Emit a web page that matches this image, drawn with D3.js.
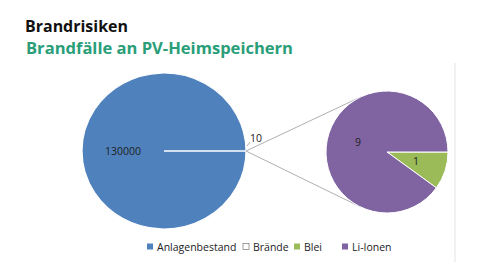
<!DOCTYPE html>
<html>
<head>
<meta charset="utf-8">
<script src="https://cdn.jsdelivr.net/npm/d3@7"></script>
<style>
  body { margin: 0; background: #fff; }
  svg { display: block; font-family: "Open Sans", "Noto Sans", sans-serif; }
</style>
</head>
<body>
<svg id="chart" width="480" height="276"></svg>
<script>
// data
const mainLabels = ["Anlagenbestand", "Brände"]
const mainValues = [130000, 10]
const subLabels = ["Blei", "Li-Ionen"]
const subValues = [1, 9]
const legendLabels = ["Anlagenbestand", "Brände", "Blei", "Li-Ionen"]
const colors = {"Anlagenbestand": "#4f81bd", "Brände": "#ffffff", "Blei": "#9bbb59", "Li-Ionen": "#8064a2"}

const svg = d3.select("#chart")

// titles
svg.append("text")
    .attr("x", 25).attr("y", 32)
    .attr("textLength", 103).attr("lengthAdjust", "spacingAndGlyphs")
    .style("font-size", "16px").style("font-weight", "bold").style("fill", "#111")
    .text("Brandrisiken")
svg.append("text")
    .attr("x", 26).attr("y", 54)
    .attr("textLength", 267).attr("lengthAdjust", "spacingAndGlyphs")
    .style("font-size", "16px").style("font-weight", "bold").style("fill", "#2a9e78")
    .text("Brandfälle an PV-Heimspeichern")

// faint frame line on the right
svg.append("line")
    .attr("x1", 455).attr("x2", 455).attr("y1", 63).attr("y2", 262)
    .style("stroke", "#ececec").style("stroke-width", 1.5)

const main = {cx: 164, cy: 151, r: 82, ry: 78}
const sub = {cx: 387, cy: 152, r: 61}

// main pie, the small "Brände" slice centred at 3 o'clock
const mainTotal = d3.sum(mainValues)
const halfOther = Math.PI * mainValues[1] / mainTotal
const mainPie = d3.pie().sort(null)
    .startAngle(Math.PI / 2 + halfOther)
    .endAngle(Math.PI / 2 + halfOther + 2 * Math.PI)
const mainArcs = mainPie(mainValues)
const mainArc = d3.arc().innerRadius(0).outerRadius(main.r)

const gMain = svg.append("g")
    .attr("transform", `translate(${main.cx},${main.cy}) scale(1,${main.ry / main.r})`)
gMain.selectAll("path")
    .data(mainArcs)
    .enter()
    .append("path")
    .attr("d", mainArc)
    .style("fill", (d, i) => colors[mainLabels[i]])
    .style("stroke", "#ffffff")
    .style("stroke-width", 1.2)

// label for the big slice
const bigC = mainArc.centroid(mainArcs[0])
svg.append("text")
    .attr("x", main.cx + bigC[0]).attr("y", main.cy + bigC[1] * main.ry / main.r)
    .attr("dy", "0.35em").attr("text-anchor", "middle")
    .style("font-size", "10.5px").style("fill", "#222")
    .text(d3.format("d")(mainValues[0]))

// outside label for the small slice
const outArc = d3.arc().innerRadius(main.r + 4).outerRadius(main.r + 4)
const oc = outArc.centroid(mainArcs[1])
const ox = main.cx + oc[0], oy = main.cy + oc[1]
svg.append("line")
    .attr("x1", ox - 3).attr("y1", oy - 5).attr("x2", ox).attr("y2", oy - 9)
    .style("stroke", "#999").style("stroke-width", 0.8)
svg.append("text")
    .attr("x", ox).attr("y", oy - 13)
    .attr("dy", "0.35em")
    .style("font-size", "10.5px").style("fill", "#222")
    .text(mainValues[1])

// connector lines, tangent to the second pie
const px = main.cx + main.r, py = main.cy
const dist = sub.cx - px
const th = Math.acos(sub.r / dist)
;[-1, 1].forEach(s => {
    svg.append("line")
        .attr("x1", px).attr("y1", py)
        .attr("x2", sub.cx - sub.r * Math.cos(th))
        .attr("y2", sub.cy + s * sub.r * Math.sin(th))
        .style("stroke", "#a6a6a6").style("stroke-width", 0.9)
})

// second pie
const subPie = d3.pie().sort(null)
    .startAngle(Math.PI / 2)
    .endAngle(Math.PI / 2 + 2 * Math.PI)
const subArcs = subPie(subValues)
const subArc = d3.arc().innerRadius(0).outerRadius(sub.r)
const gSub = svg.append("g").attr("transform", `translate(${sub.cx},${sub.cy})`)
gSub.selectAll("path")
    .data(subArcs)
    .enter()
    .append("path")
    .attr("d", subArc)
    .style("fill", (d, i) => colors[subLabels[i]])
    .style("stroke", "#ffffff")
    .style("stroke-width", 1)
gSub.selectAll("text")
    .data(subArcs)
    .enter()
    .append("text")
    .attr("x", d => subArc.centroid(d)[0])
    .attr("y", d => subArc.centroid(d)[1])
    .attr("dy", "0.35em").attr("text-anchor", "middle")
    .style("font-size", "10.5px").style("fill", "#222")
    .text(d => d.data)

// legend
const legendX = [147, 243, 294, 342]
const legend = svg.append("g").attr("transform", "translate(0,247)")
legendLabels.forEach((name, i) => {
    legend.append("rect")
        .attr("x", legendX[i]).attr("y", -3.5)
        .attr("width", 6).attr("height", 6)
        .style("fill", colors[name])
        .style("stroke", name === "Brände" ? "#777" : "none")
        .style("stroke-width", 0.7)
    legend.append("text")
        .attr("x", legendX[i] + 10).attr("y", 0)
        .attr("dy", "0.35em")
        .style("font-size", "10.5px").style("fill", "#222")
        .text(name)
})
</script>
</body>
</html>
